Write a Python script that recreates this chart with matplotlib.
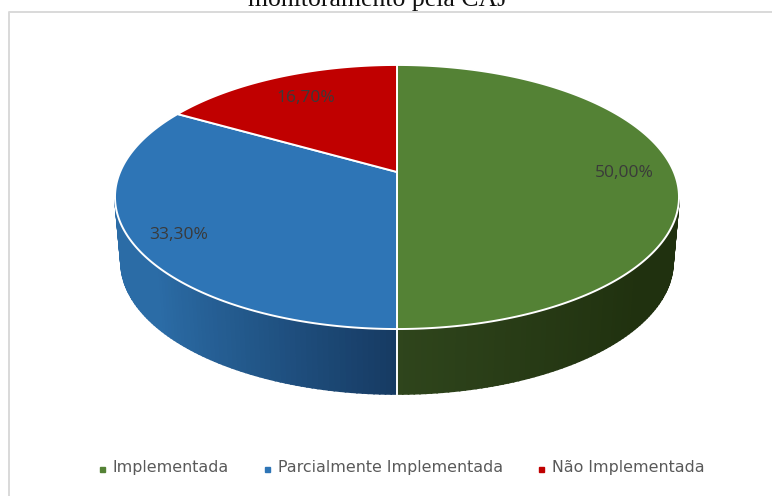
import numpy as np
import matplotlib
matplotlib.use("Agg")
import matplotlib.pyplot as plt
from matplotlib.colors import to_rgb

categorias = ["Implementada", "Parcialmente Implementada", "Não Implementada"]
valores = [50.0, 33.3, 16.7]
cores = ["#548235", "#2e75b6", "#c00000"]
# cor da parede: junto da frente / junto da borda
parede_frente = ["#2f451c", "#163a62", "#7a0000"]
parede_borda = ["#20310f", "#2b6ca6", "#a00000"]
rotulos = [f"{v:.2f}".replace(".", ",") + "%" for v in valores]
titulo = "monitoramento pela CAJ"

fig = plt.figure(figsize=(7.72, 4.96), dpi=100)
ax = fig.add_axes([0, 0, 1, 1])
ax.set_xlim(0, 772)
ax.set_ylim(496, 0)
ax.axis("off")


# pizza inclinada com perspectiva, angulo em graus a partir do topo, horario
def topo(ang, r=1.0):
    t = np.radians(ang)
    X, Y = r * np.sin(t), r * np.cos(t)
    w = 1 + 0.1893 * Y
    return 397 + 276.9 * X / w, 172 - 127.3 * Y / w


def base(ang):
    t = np.radians(ang)
    X, Y = np.sin(t), np.cos(t)
    w = 1 + 0.1893 * Y
    return 397 + 271 * X / w, 237 - 127.3 * Y / w


def mistura(c1, c2, f):
    return tuple((1 - f) * np.array(to_rgb(c1)) + f * np.array(to_rgb(c2)))


inicio = 360 * np.cumsum([0] + valores[:-1]) / sum(valores)
fim = 360 * np.cumsum(valores) / sum(valores)

# parede lateral em faixas, para fazer o degrade
for i in range(len(valores)):
    a0 = max(inicio[i], 102)
    a1 = min(fim[i], 258)
    if a1 <= a0:
        continue
    passos = np.linspace(a0, a1, int(a1 - a0) + 2)
    for p, q in zip(passos[:-1], passos[1:]):
        xt, yt = topo(np.array([p, q]))
        xb, yb = base(np.array([q, p]))
        f = min(abs(np.sin(np.radians((p + q) / 2 - 180))) * 1.3, 1)
        cor = mistura(parede_frente[i], parede_borda[i], f)
        ax.fill(np.r_[xt, xb], np.r_[yt, yb], facecolor=cor, edgecolor=cor, lw=1.2, zorder=1)

# tampa
for i in range(len(valores)):
    angs = np.linspace(inicio[i], fim[i], 200)
    xs, ys = topo(angs)
    x0, y0 = topo(0, 0)
    ax.fill(np.r_[x0, xs], np.r_[y0, ys], facecolor=cores[i], edgecolor="white",
            lw=1.4, joinstyle="round", zorder=2)

# divisao branca na frente
x1, y1 = topo(180)
x2, y2 = base(180)
ax.plot([x1, x2], [y1, y2], color="white", lw=1.4, zorder=3)

# rotulos
pos_rotulos = [(624, 173), (179, 235), (306, 98)]
for txt, (x, y) in zip(rotulos, pos_rotulos):
    ax.text(x, y, txt, ha="center", va="center", fontsize=12.5, color="#3a3a3a",
            family="Open Sans", zorder=4)

# moldura
ax.plot([771, 8.5, 8.5], [12, 12, 496], color="#d9d9d9", lw=1.4, zorder=0)

# titulo cortado no topo
ax.text(378, 6, titulo, ha="center", va="baseline", fontsize=18.5,
        family="Liberation Serif", color="#111111", clip_on=False)

# legenda
pos_legenda = [102, 267, 541]
for x, cat, cor in zip(pos_legenda, categorias, cores):
    ax.plot([x], [469], marker="s", ms=3.6, color=cor, ls="none")
    ax.text(x + 11, 467.5, cat, ha="left", va="center", fontsize=11.4, color="#595959",
            family="DejaVu Sans")

fig.savefig("out.png", dpi=100)
